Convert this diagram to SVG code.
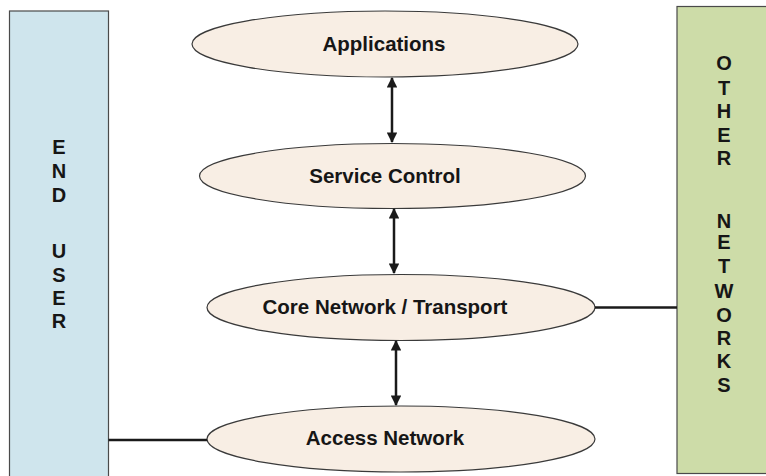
<svg xmlns="http://www.w3.org/2000/svg" width="766" height="476" viewBox="0 0 766 476">
<style>
.bg{fill:#ffffff}
.side{stroke:#4a4a4a;stroke-width:1.2}
.user{fill:#cfe5ed}
.other{fill:#cddca8}
.layer{fill:#f8eee4;stroke:#3a3a3a;stroke-width:1.2}
.lbl{font-family:"Liberation Sans",Arial,sans-serif;font-weight:bold;font-size:20.5px;fill:#161616;text-anchor:middle}
.vl{font-family:"Liberation Sans",Arial,sans-serif;font-weight:bold;font-size:20px;fill:#161616;text-anchor:middle}
.conn{stroke:#1a1a1a;stroke-width:2.5;fill:none}
</style>
<defs>
<marker id="ah" viewBox="0 0 10 10" refX="9" refY="5" markerWidth="5.6" markerHeight="4.2" markerUnits="strokeWidth" orient="auto-start-reverse">
<path d="M0,0 L10,5 L0,10 z" fill="#1a1a1a"/>
</marker>
</defs>
<rect class="bg" x="0" y="0" width="766" height="476"/>
<g id="end-user">
<rect class="side user" x="9.5" y="11" width="99" height="480"/>
<text class="vl" x="59" y="154">E</text>
<text class="vl" x="59" y="178">N</text>
<text class="vl" x="59" y="202">D</text>
<text class="vl" x="59" y="258">U</text>
<text class="vl" x="59" y="282">S</text>
<text class="vl" x="59" y="305">E</text>
<text class="vl" x="59" y="328">R</text>
</g>
<g id="other-networks">
<rect class="side other" x="677" y="6.5" width="100" height="467"/>
<text class="vl" x="724" y="70">O</text>
<text class="vl" x="724" y="95">T</text>
<text class="vl" x="724" y="118">H</text>
<text class="vl" x="724" y="142">E</text>
<text class="vl" x="724" y="165">R</text>
<text class="vl" x="724" y="228">N</text>
<text class="vl" x="724" y="249">E</text>
<text class="vl" x="724" y="273">T</text>
<text class="vl" x="724" y="298">W</text>
<text class="vl" x="724" y="322">O</text>
<text class="vl" x="724" y="345">R</text>
<text class="vl" x="724" y="368">K</text>
<text class="vl" x="724" y="392">S</text>
</g>
<g id="applications">
<ellipse class="layer" cx="385" cy="44" rx="193" ry="33"/>
<text class="lbl" x="384" y="51">Applications</text>
</g>
<g id="service-control">
<ellipse class="layer" cx="392.5" cy="176" rx="193" ry="32.5"/>
<text class="lbl" x="385" y="183">Service Control</text>
</g>
<g id="core-network">
<ellipse class="layer" cx="401" cy="307.5" rx="194" ry="33"/>
<text class="lbl" x="385" y="314">Core Network / Transport</text>
</g>
<g id="access-network">
<ellipse class="layer" cx="401" cy="439" rx="194" ry="33"/>
<text class="lbl" x="385" y="445">Access Network</text>
</g>
<g id="connectors">
<line class="conn" x1="392" y1="78" x2="392" y2="142" marker-start="url(#ah)" marker-end="url(#ah)"/>
<line class="conn" x1="394" y1="209" x2="394" y2="273" marker-start="url(#ah)" marker-end="url(#ah)"/>
<line class="conn" x1="396" y1="341" x2="396" y2="405" marker-start="url(#ah)" marker-end="url(#ah)"/>
<line class="conn" x1="595" y1="307.5" x2="677" y2="307.5"/>
<line class="conn" x1="108.5" y1="440" x2="207" y2="440"/>
</g>
</svg>
